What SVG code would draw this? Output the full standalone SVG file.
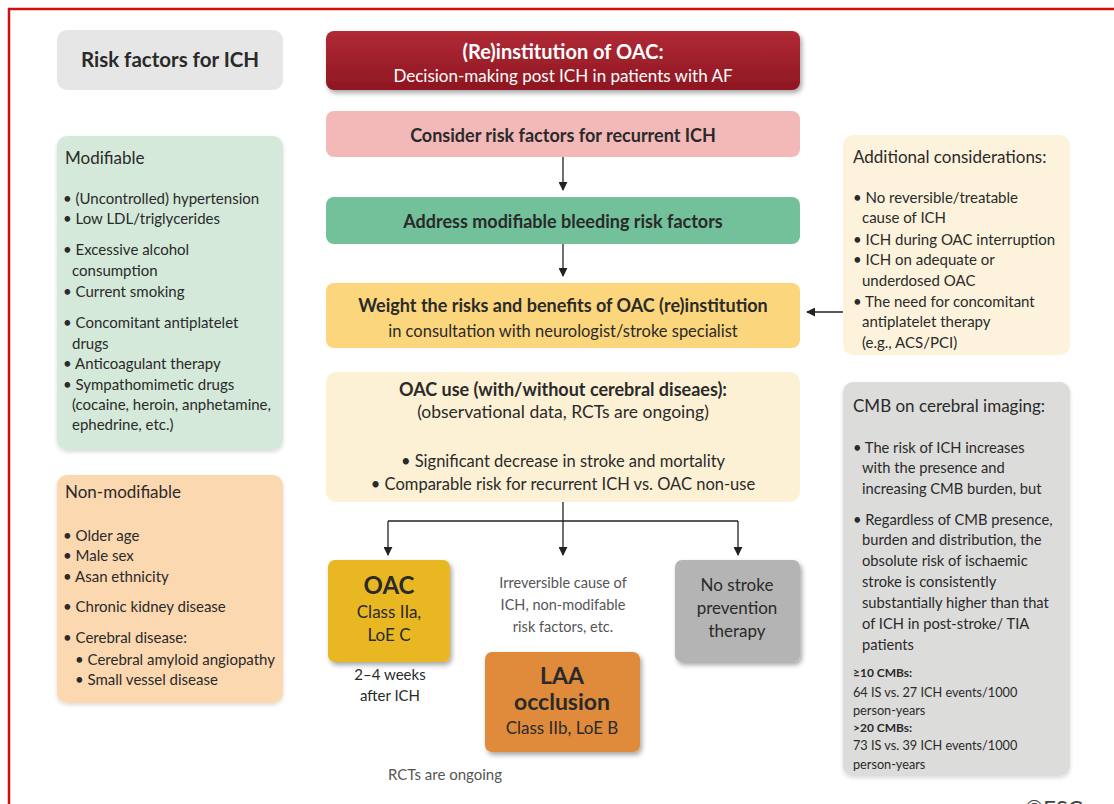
<svg xmlns="http://www.w3.org/2000/svg" width="1114" height="804" viewBox="0 0 1114 804">
<defs>
<filter id="sh" x="-10%" y="-20%" width="130%" height="150%">
<feGaussianBlur in="SourceAlpha" stdDeviation="2.5"/>
<feOffset dx="1.5" dy="2.5" result="b"/>
<feComponentTransfer><feFuncA type="linear" slope="0.35"/></feComponentTransfer>
<feMerge><feMergeNode/><feMergeNode in="SourceGraphic"/></feMerge>
</filter>
<filter id="sh2" x="-10%" y="-10%" width="130%" height="130%">
<feGaussianBlur in="SourceAlpha" stdDeviation="2"/>
<feOffset dx="0" dy="1.5" result="b"/>
<feComponentTransfer><feFuncA type="linear" slope="0.15"/></feComponentTransfer>
<feMerge><feMergeNode/><feMergeNode in="SourceGraphic"/></feMerge>
</filter>
<linearGradient id="gRed" x1="0" y1="0" x2="0" y2="1">
<stop offset="0" stop-color="#b02a35"/><stop offset="1" stop-color="#8e1722"/>
</linearGradient>
<marker id="ah" viewBox="0 0 10 10" refX="9" refY="5" markerWidth="9" markerHeight="9" markerUnits="userSpaceOnUse" orient="auto">
<path d="M0,0 L10,5 L0,10 z" fill="#222"/>
</marker>
<style>
text{font-family:Lato,"Open Sans","Liberation Sans",sans-serif;fill:#2a2a2a}
.b{font-weight:bold}
.c{text-anchor:middle}
.s{font-size:15px}
.m{font-size:17px}
.h{font-size:17px}
.g{fill:#555}
.w{fill:#ffffff}
.ln{stroke:#222;stroke-width:1.3;fill:none}
</style>
</defs>
<rect x="0" y="0" width="1114" height="804" fill="#ffffff"/>
<path d="M9,804 L9,9 L1114,9" fill="none" stroke="#cc1111" stroke-width="2.5"/>

<g id="risk-title">
<rect x="57" y="30" width="226" height="60" rx="10" fill="#e6e6e6"/>
<text class="b c" x="170" y="67" style="font-size:20.5px">Risk factors for ICH</text>
</g>

<g id="modifiable">
<rect x="57" y="136" width="226" height="314" rx="10" fill="#d4e9d9" filter="url(#sh2)"/>
<text class="m" x="65" y="164">Modifiable</text>
<g class="s">
<text x="63" y="204">• (Uncontrolled) hypertension</text>
<text x="63" y="224">• Low LDL/triglycerides</text>
<text x="63" y="255">• Excessive alcohol</text>
<text x="72" y="276">consumption</text>
<text x="63" y="297">• Current smoking</text>
<text x="63" y="328">• Concomitant antiplatelet</text>
<text x="72" y="349">drugs</text>
<text x="63" y="369">• Anticoagulant therapy</text>
<text x="63" y="390">• Sympathomimetic drugs</text>
<text x="72" y="410">(cocaine, heroin, anphetamine,</text>
<text x="72" y="430">ephedrine, etc.)</text>
</g>
</g>

<g id="nonmodifiable">
<rect x="57" y="475" width="226" height="228" rx="10" fill="#fbd8b0" filter="url(#sh2)"/>
<text class="m" x="65" y="498">Non-modifiable</text>
<g class="s">
<text x="63" y="541">• Older age</text>
<text x="63" y="561">• Male sex</text>
<text x="63" y="582">• Asan ethnicity</text>
<text x="63" y="612">• Chronic kidney disease</text>
<text x="63" y="643">• Cerebral disease:</text>
<text x="75" y="665">• Cerebral amyloid angiopathy</text>
<text x="75" y="685">• Small vessel disease</text>
</g>
</g>

<g id="title">
<rect x="326" y="31" width="474" height="59" rx="8" fill="url(#gRed)" filter="url(#sh)"/>
<text class="b c w" x="563" y="59" style="font-size:20px">(Re)institution of OAC:</text>
<text class="c w" x="563" y="82" style="font-size:17px">Decision-making post ICH in patients with AF</text>
</g>

<g id="consider">
<rect x="326" y="111" width="474" height="46" rx="8" fill="#f3b9b9"/>
<text class="b c" x="563" y="142" style="font-size:18px">Consider risk factors for recurrent ICH</text>
</g>

<g id="address">
<rect x="326" y="197" width="474" height="47" rx="8" fill="#72c19a"/>
<text class="b c" x="563" y="228" style="font-size:18px">Address modifiable bleeding risk factors</text>
</g>

<g id="weight">
<rect x="326" y="283" width="474" height="65" rx="8" fill="#fcd67c"/>
<text class="b c" x="563" y="312" style="font-size:18px">Weight the risks and benefits of OAC (re)institution</text>
<text class="c" x="563" y="337" style="font-size:16.5px">in consultation with neurologist/stroke specialist</text>
</g>

<g id="oacuse">
<rect x="326" y="372" width="474" height="130" rx="10" fill="#fdf1d5"/>
<text class="b c" x="563" y="396" style="font-size:18px">OAC use (with/without cerebral diseaes):</text>
<text class="c" x="563" y="418" style="font-size:17.5px">(observational data, RCTs are ongoing)</text>
<text class="c" x="563" y="467" style="font-size:16.5px">• Significant decrease in stroke and mortality</text>
<text class="c" x="563" y="490" style="font-size:16.5px">• Comparable risk for recurrent ICH vs. OAC non-use</text>
</g>

<g id="oac">
<rect x="328" y="560" width="122" height="102" rx="7" fill="#e8b720" filter="url(#sh)"/>
<text class="b c" x="389" y="594" style="font-size:24px">OAC</text>
<text class="c" x="389" y="618" style="font-size:17px">Class IIa,</text>
<text class="c" x="389" y="641" style="font-size:17px">LoE C</text>
<text class="c" x="390" y="680" style="font-size:15px">2–4 weeks</text>
<text class="c" x="390" y="701" style="font-size:15px">after ICH</text>
</g>

<g id="irreversible">
<text class="c g" x="563" y="588" style="font-size:14.5px">Irreversible cause of</text>
<text class="c g" x="563" y="610" style="font-size:14.5px">ICH, non-modifable</text>
<text class="c g" x="563" y="632" style="font-size:14.5px">risk factors, etc.</text>
</g>

<g id="laa">
<rect x="485" y="652" width="155" height="100" rx="7" fill="#e08a3a" filter="url(#sh)"/>
<text class="b c" x="562" y="684" style="font-size:23px">LAA</text>
<text class="b c" x="562" y="710" style="font-size:23px">occlusion</text>
<text class="c" x="562" y="734" style="font-size:17px">Class IIb, LoE B</text>
<text class="c g" x="445" y="780" style="font-size:15px">RCTs are ongoing</text>
</g>

<g id="nostroke">
<rect x="675" y="560" width="125" height="102" rx="7" fill="#b4b4b4" filter="url(#sh)"/>
<text class="c" x="737" y="591" style="font-size:17px">No stroke</text>
<text class="c" x="737" y="614" style="font-size:17px">prevention</text>
<text class="c" x="737" y="637" style="font-size:17px">therapy</text>
</g>

<g id="additional">
<rect x="843" y="135" width="227" height="220" rx="10" fill="#fdf3dc"/>
<text class="h" x="853" y="163">Additional considerations:</text>
<g class="s">
<text x="853" y="203">• No reversible/treatable</text>
<text x="862" y="223">cause of ICH</text>
<text x="853" y="245">• ICH during OAC interruption</text>
<text x="853" y="265">• ICH on adequate or</text>
<text x="862" y="286">underdosed OAC</text>
<text x="853" y="307">• The need for concomitant</text>
<text x="862" y="327">antiplatelet therapy</text>
<text x="862" y="348">(e.g., ACS/PCI)</text>
</g>
</g>

<g id="cmb">
<rect x="843" y="382" width="227" height="394" rx="10" fill="#dcdcdb" filter="url(#sh2)"/>
<text class="h" x="853" y="412">CMB on cerebral imaging:</text>
<g style="font-size:14.7px">
<text x="853" y="453">• The risk of ICH increases</text>
<text x="862" y="473">with the presence and</text>
<text x="862" y="494">increasing CMB burden, but</text>
<text x="853" y="525">• Regardless of CMB presence,</text>
<text x="862" y="545">burden and distribution, the</text>
<text x="862" y="566">obsolute risk of ischaemic</text>
<text x="862" y="587">stroke is consistently</text>
<text x="862" y="608">substantially higher than that</text>
<text x="862" y="629">of ICH in post-stroke/ TIA</text>
<text x="862" y="650">patients</text>
</g>
<text class="b" x="853" y="677" style="font-size:12px">≥10 CMBs:</text>
<text x="853" y="697" style="font-size:12.7px">64 IS vs. 27 ICH events/1000</text>
<text x="853" y="715" style="font-size:12.7px">person-years</text>
<text class="b" x="853" y="732" style="font-size:12px">&gt;20 CMBs:</text>
<text x="853" y="750" style="font-size:12.7px">73 IS vs. 39 ICH events/1000</text>
<text x="853" y="769" style="font-size:12.7px">person-years</text>
</g>

<g id="connectors">
<line class="ln" x1="563" y1="157" x2="563" y2="190" marker-end="url(#ah)"/>
<line class="ln" x1="563" y1="244" x2="563" y2="276" marker-end="url(#ah)"/>
<line class="ln" x1="843" y1="312" x2="807" y2="312" marker-end="url(#ah)"/>
<line class="ln" x1="563" y1="502" x2="563" y2="555" marker-end="url(#ah)"/>
<path class="ln" d="M388,521 L738,521"/>
<line class="ln" x1="388" y1="521" x2="388" y2="555" marker-end="url(#ah)"/>
<line class="ln" x1="738" y1="521" x2="738" y2="555" marker-end="url(#ah)"/>
</g>

<text x="1025" y="816" style="font-size:22px;fill:#444">©ESC</text>
</svg>
